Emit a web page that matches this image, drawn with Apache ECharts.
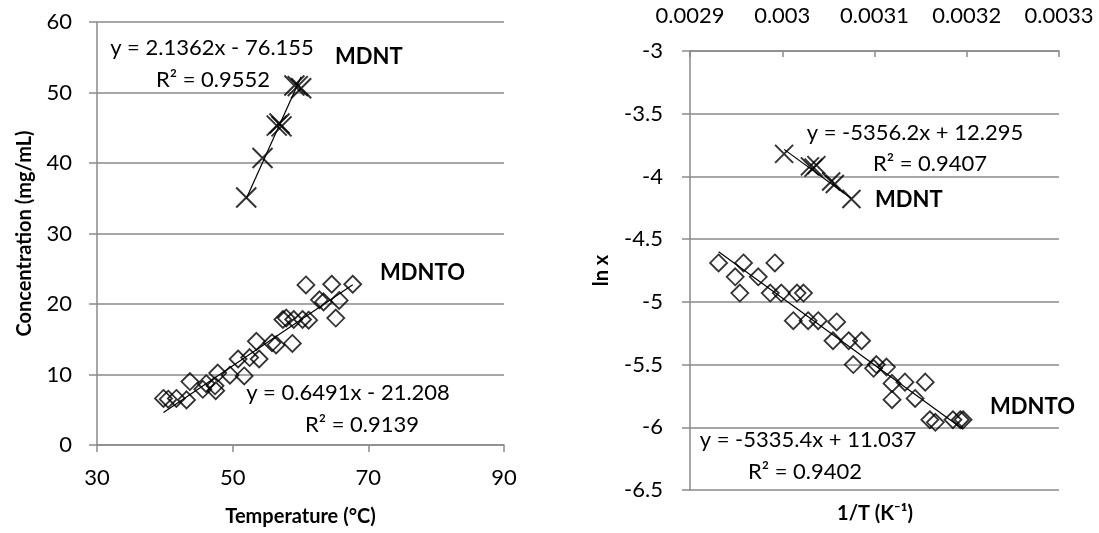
<!DOCTYPE html>
<html>
<head>
<meta charset="utf-8">
<script src="https://cdn.jsdelivr.net/npm/echarts@6/dist/echarts.min.js"></script>
<style>
html,body{margin:0;padding:0;background:#fff;}
#c{width:1099px;height:533px;}
</style>
</head>
<body>
<div id="c"></div>
<script>
// ---- Left chart data: Concentration (mg/mL) vs Temperature (°C)
const mdntTemp = [52.0, 54.4, 56.5, 56.9, 57.2, 59.1, 59.6, 60.1];
const mdntConc = [35.1, 40.7, 45.3, 45.6, 45.2, 51.0, 50.9, 50.6];
const mdntoTemp = [39.8, 40.5, 41.7, 43.2, 43.7, 45.6, 46.1, 47.4, 47.5, 47.8, 49.6, 50.8, 51.7, 52.5, 53.5, 53.9, 55.8, 56.4, 58.8, 57.4, 57.9, 59.0, 60.3, 61.2, 62.8, 63.4, 65.7, 65.2, 60.8, 64.6, 67.7];
const mdntoConc = [6.6, 6.5, 6.6, 6.4, 9.0, 7.9, 8.7, 8.4, 7.7, 10.2, 9.9, 12.2, 9.8, 12.4, 14.7, 12.2, 14.5, 14.2, 14.4, 17.8, 18.0, 17.8, 17.8, 17.7, 20.6, 20.3, 20.5, 18.0, 22.7, 22.8, 22.8];
// ---- Right chart data: ln x vs 1/T (K^-1)
const mdntInvT = [0.003002, 0.003030, 0.003034, 0.003037, 0.003053, 0.003057, 0.003075];
const mdntLnX = [-3.82, -3.92, -3.93, -3.91, -4.04, -4.06, -4.18];
const mdntoInvT = [0.002931, 0.002958, 0.002992, 0.002949, 0.002974, 0.002954, 0.002987, 0.002999, 0.003016, 0.003023, 0.003012, 0.003028, 0.003039, 0.003059, 0.003055, 0.003072, 0.003086, 0.003077, 0.003102, 0.003099, 0.003113, 0.003119, 0.003133, 0.003155, 0.003119, 0.003144, 0.003160, 0.003166, 0.003185, 0.003193, 0.003196];
const mdntoLnX = [-4.69, -4.69, -4.69, -4.80, -4.80, -4.93, -4.93, -4.93, -4.93, -4.93, -5.15, -5.15, -5.15, -5.16, -5.31, -5.31, -5.31, -5.50, -5.50, -5.53, -5.52, -5.65, -5.64, -5.64, -5.78, -5.77, -5.94, -5.96, -5.94, -5.94, -5.94];
// ---- Trendline coefficients [slope, intercept]
const fitMDNT = [2.1362, -76.155];
const fitMDNTO = [0.6491, -21.208];
const fitMDNTln = [-5356.2, 12.295];
const fitMDNTOln = [-5335.4, 11.037];
// ---- Tick labels / annotations
const leftXTicks = [30, 50, 70, 90];
const rightXTicks = ['0.0029', '0.003', '0.0031', '0.0032', '0.0033'];
const eqTexts = ['y = 2.1362x - 76.155', 'R² = 0.9552', 'y = 0.6491x - 21.208', 'R² = 0.9139',
                 'y = -5356.2x + 12.295', 'R² = 0.9407', 'y = -5335.4x + 11.037', 'R² = 0.9402'];

const zip = (a, b) => a.map((v, i) => [v, b[i]]);
const fitLine = (xs, f) => {
  const lo = Math.min(...xs), hi = Math.max(...xs);
  return [[lo, f[0] * lo + f[1]], [hi, f[0] * hi + f[1]]];
};

const FONT = 'Lato, "Open Sans", sans-serif';
const GRAY = '#8a8a8a';
const xSym = 'path://M0,0L10,10M10,0L0,10';
const diamondStyle = {color: 'rgba(0,0,0,0)', borderColor: '#000', borderWidth: 1.8};
const xStyle = {color: 'rgba(0,0,0,0)', borderColor: '#000', borderWidth: 2};
const lab = {fontFamily: FONT, fontSize: 22, color: '#000'};
const nameSt = {fontFamily: FONT, fontSize: 20, fontWeight: 'bold', color: '#000'};

function txt(t, x, y, bold, align, size) {
  return {type: 'text', z: 100, style: {text: t, x: x, y: y, textAlign: align || 'left', textVerticalAlign: 'middle',
    font: (bold ? 'bold ' : '') + (size || 22) + 'px ' + FONT, fill: '#000'}};
}

const chart = echarts.init(document.getElementById('c'));
chart.setOption({
  animation: false,
  backgroundColor: '#fff',
  grid: [
    {left: 97, top: 22, width: 407, height: 423, containLabel: false, outerBoundsMode: 'none'},
    {left: 690, top: 51, width: 369, height: 439, containLabel: false, outerBoundsMode: 'none'}
  ],
  xAxis: [
    {gridIndex: 0, type: 'value', min: 30, max: 90, interval: 20,
      name: 'Temperature (°C)', nameLocation: 'middle', nameGap: 62, nameTextStyle: nameSt,
      axisLine: {show: true, onZero: false, lineStyle: {color: GRAY, width: 1.5}},
      axisTick: {show: true, length: 7, lineStyle: {color: GRAY, width: 1.5}},
      axisLabel: Object.assign({margin: 22, formatter: v => leftXTicks.includes(v) ? String(v) : ''}, lab),
      splitLine: {show: false}},
    {gridIndex: 1, type: 'value', min: 0.0029, max: 0.0033, interval: 0.0001, position: 'top',
      axisLine: {show: true, onZero: false, lineStyle: {color: GRAY, width: 1.5}},
      axisTick: {show: true, inside: true, length: 6, lineStyle: {color: GRAY, width: 1.5}},
      axisLabel: Object.assign({margin: 24, formatter: v => rightXTicks[Math.round((v - 0.0029) / 0.0001)] || ''}, lab),
      splitLine: {show: false}}
  ],
  yAxis: [
    {gridIndex: 0, type: 'value', min: 0, max: 60, interval: 10,
      name: 'Concentration (mg/mL)', nameLocation: 'middle', nameGap: 62, nameTextStyle: nameSt,
      axisLine: {show: true, lineStyle: {color: GRAY, width: 1.5}},
      axisTick: {show: true, length: 8, lineStyle: {color: GRAY, width: 1.5}},
      axisLabel: Object.assign({margin: 25}, lab),
      splitLine: {show: true, lineStyle: {color: GRAY, width: 1.5}}},
    {gridIndex: 1, type: 'value', min: -6.5, max: -3, interval: 0.5,
      name: 'ln x', nameLocation: 'middle', nameGap: 78, nameTextStyle: nameSt,
      axisLine: {show: true, onZero: false, lineStyle: {color: GRAY, width: 1.5}},
      axisTick: {show: true, length: 8, lineStyle: {color: GRAY, width: 1.5}},
      axisLabel: Object.assign({margin: 27}, lab),
      splitLine: {show: true, lineStyle: {color: GRAY, width: 1.5}}}
  ],
  series: [
    {type: 'scatter', xAxisIndex: 0, yAxisIndex: 0, data: zip(mdntoTemp, mdntoConc),
      symbol: 'diamond', symbolSize: 17, itemStyle: diamondStyle},
    {type: 'scatter', xAxisIndex: 0, yAxisIndex: 0, data: zip(mdntTemp, mdntConc),
      symbol: xSym, symbolSize: 20, itemStyle: xStyle},
    {type: 'line', xAxisIndex: 0, yAxisIndex: 0, data: fitLine(mdntoTemp, fitMDNTO), symbol: 'none',
      lineStyle: {color: '#000', width: 1.2}, z: 5},
    {type: 'line', xAxisIndex: 0, yAxisIndex: 0, data: fitLine(mdntTemp, fitMDNT), symbol: 'none',
      lineStyle: {color: '#000', width: 1.2}, z: 5},
    {type: 'scatter', xAxisIndex: 1, yAxisIndex: 1, data: zip(mdntoInvT, mdntoLnX),
      symbol: 'diamond', symbolSize: 17, itemStyle: diamondStyle},
    {type: 'scatter', xAxisIndex: 1, yAxisIndex: 1, data: zip(mdntInvT, mdntLnX),
      symbol: xSym, symbolSize: 18, itemStyle: xStyle},
    {type: 'line', xAxisIndex: 1, yAxisIndex: 1, data: fitLine(mdntoInvT, fitMDNTOln), symbol: 'none',
      lineStyle: {color: '#000', width: 1.2}, z: 5},
    {type: 'line', xAxisIndex: 1, yAxisIndex: 1, data: fitLine(mdntInvT, fitMDNTln), symbol: 'none',
      lineStyle: {color: '#000', width: 1.2}, z: 5}
  ],
  graphic: [
    txt(eqTexts[0], 212, 48, false, 'center'),
    txt(eqTexts[1], 213, 80, false, 'center'),
    txt('MDNT', 335, 57, true),
    txt('MDNTO', 380, 273, true),
    txt(eqTexts[2], 348, 393, false, 'center'),
    txt(eqTexts[3], 362, 425, false, 'center'),
    txt(eqTexts[4], 915, 133, false, 'center'),
    txt(eqTexts[5], 930, 164, false, 'center'),
    txt('MDNT', 875, 200, true),
    txt('MDNTO', 990, 407, true),
    txt(eqTexts[6], 808, 440, false, 'center'),
    txt(eqTexts[7], 805, 472, false, 'center'),
    txt('1/T (K⁻¹)', 875, 514, true, 'center', 20)
  ]
});
</script>
</body>
</html>
